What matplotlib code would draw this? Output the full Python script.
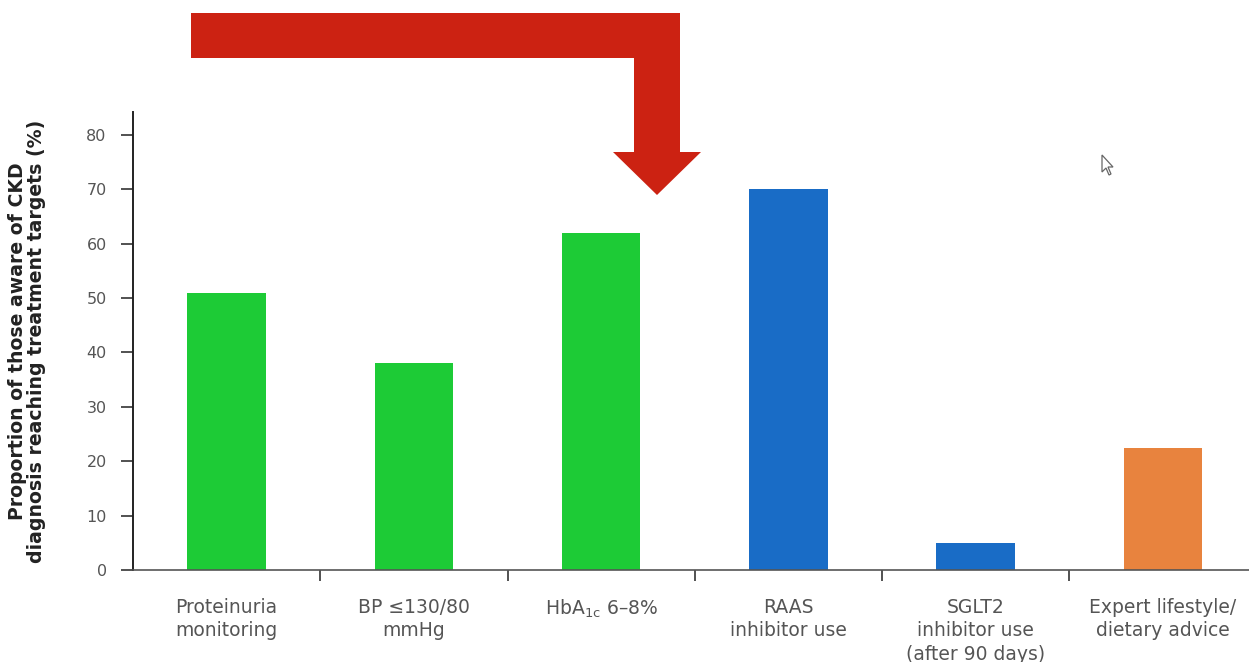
import matplotlib.pyplot as plt
from matplotlib.patches import Polygon
import numpy as np

plt.rcParams['font.family'] = ['DejaVu Sans']

categories = ['Proteinuria\nmonitoring', 'BP \u2264130/80\nmmHg',
              'HbA$_{\\mathregular{1c}}$ 6\u20138%', 'RAAS\ninhibitor use',
              'SGLT2\ninhibitor use\n(after 90 days)',
              'Expert lifestyle/\ndietary advice']
values = [51, 38, 62, 70, 5, 22.5]
colors = ['#1dcb36', '#1dcb36', '#1dcb36', '#196cc6', '#196cc6', '#e8833e']
yticks = [0, 10, 20, 30, 40, 50, 60, 70, 80]

fig = plt.figure(figsize=(12.49, 6.62), dpi=100)
ax = fig.add_axes([0.1065, 0.139, 0.8935, 0.692])

x = np.arange(len(categories))
ax.bar(x, values, width=0.42, color=colors)

ax.set_xlim(-0.5, 5.46)
ax.set_ylim(0, 84.2)
ax.set_yticks(yticks)
ax.tick_params(axis='y', direction='out', length=9, width=1.2, color='#333333',
               labelsize=11.5, labelcolor='#555555', pad=10)

# ticks between categories, labels under each bar
ax.set_xticks(x[:-1] + 0.5)
ax.set_xticklabels([])
ax.tick_params(axis='x', which='major', direction='out', length=8, width=1.2,
               color='#333333')
ax.set_xticks(x, minor=True)
ax.set_xticklabels(categories, minor=True, fontsize=13.5, color='#555555',
                   linespacing=1.3, va='top')
ax.tick_params(axis='x', which='minor', length=0, pad=20)

for s in ['top', 'right']:
    ax.spines[s].set_visible(False)
ax.spines['left'].set_color('#222222')
ax.spines['left'].set_linewidth(1.4)
ax.spines['bottom'].set_color('#555555')
ax.spines['bottom'].set_linewidth(1.2)

ax.set_ylabel('Proportion of those aware of CKD\ndiagnosis reaching treatment targets (%)',
              fontsize=13.6, fontweight='bold', color='#222222', linespacing=0.95,
              va='center')
ax.yaxis.set_label_coords(-0.095, 0.5)

# red elbow arrow above the chart (figure pixels / size)
W, H = 1249.0, 662.0
pts = [(191, 13), (680, 13), (680, 152), (701, 152), (657, 195),
       (613, 152), (634, 152), (634, 58), (191, 58)]
arrow = Polygon([(px / W, 1 - py / H) for px, py in pts], closed=True,
                transform=fig.transFigure, facecolor='#cc2212',
                edgecolor='none')
fig.patches.append(arrow)

# small mouse pointer left on the slide
cur = [(1102, 155), (1102, 172), (1106, 168), (1109, 175), (1111, 174),
       (1108, 167), (1113, 167)]
pointer = Polygon([(px / W, 1 - py / H) for px, py in cur], closed=True,
                  transform=fig.transFigure, facecolor='white',
                  edgecolor='#666666', linewidth=0.9)
fig.patches.append(pointer)

fig.savefig('out.png', dpi=100)
